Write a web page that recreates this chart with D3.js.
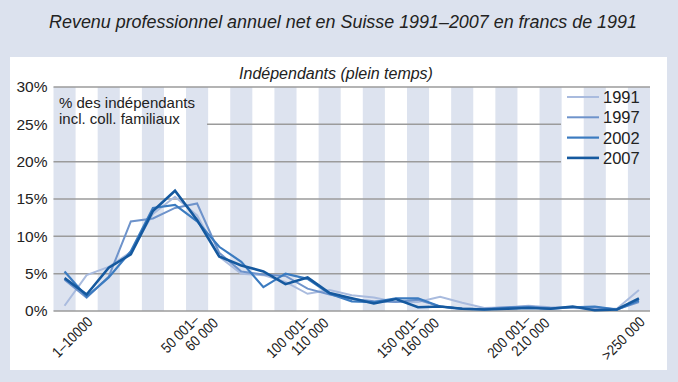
<!DOCTYPE html>
<html>
<head>
<meta charset="utf-8">
<script src="https://cdn.jsdelivr.net/npm/d3@7"></script>
<style>
  html, body { margin: 0; padding: 0; background: #dce2ee; }
  svg { display: block; }
  text { font-family: "Liberation Sans", Arial, sans-serif; fill: #222; }
</style>
</head>
<body>
<svg id="chart" width="678" height="382"></svg>
<script>
// ---- data ----
const categories = ["≤0", "1–10 000", "10 001–20 000", "20 001–30 000", "30 001–40 000", "40 001–50 000",
  "50 001–60 000", "60 001–70 000", "70 001–80 000", "80 001–90 000", "90 001–100 000",
  "100 001–110 000", "110 001–120 000", "120 001–130 000", "130 001–140 000", "140 001–150 000",
  "150 001–160 000", "160 001–170 000", "170 001–180 000", "180 001–190 000", "190 001–200 000",
  "200 001–210 000", "210 001–220 000", "220 001–230 000", "230 001–240 000", "240 001–250 000", ">250 000"];
const years = ["1991", "1997", "2002", "2007"];
const v1991 = [0.7, 4.8, 5.9, 7.9, 13.0, 15.3, 12.8, 7.3, 5.0, 4.8, 3.9, 2.3, 2.8, 2.1, 1.8, 1.2, 1.2, 1.9, 1.1, 0.4, 0.5, 0.7, 0.5, 0.4, 0.3, 0.3, 2.8];
const v1997 = [4.2, 1.8, 4.6, 12.0, 12.4, 13.8, 14.4, 7.8, 5.3, 4.9, 4.7, 3.0, 2.2, 1.6, 1.3, 1.2, 1.5, 0.6, 0.3, 0.3, 0.5, 0.6, 0.4, 0.5, 0.5, 0.2, 1.2];
const v2002 = [5.3, 1.9, 4.5, 8.0, 13.8, 14.2, 12.0, 8.6, 6.6, 3.2, 5.0, 4.3, 2.3, 1.3, 1.2, 1.7, 1.7, 0.6, 0.3, 0.2, 0.4, 0.5, 0.3, 0.5, 0.6, 0.2, 1.4];
const v2007 = [4.4, 2.2, 5.8, 7.6, 13.4, 16.1, 12.2, 7.3, 6.1, 5.3, 3.6, 4.5, 2.4, 1.7, 1.0, 1.6, 0.5, 0.6, 0.3, 0.2, 0.3, 0.4, 0.3, 0.6, 0.1, 0.2, 1.7];
const yTicks = [0, 5, 10, 15, 20, 25, 30];
const xTickIndex = [1, 6, 11, 16, 21, 26];
const xTickLabels = [["1–10000"], ["50 001–", "60 000"], ["100 001–", "110 000"], ["150 001–", "160 000"], ["200 001–", "210 000"], [">250 000"]];
const title = "Revenu professionnel annuel net en Suisse 1991–2007 en francs de 1991";
const subtitle = "Indépendants (plein temps)";
const note = ["% des indépendants", "incl. coll. familiaux"];

// ---- layout ----
const series = [
  { name: years[0], values: v1991, color: "#a9bbde", width: 2 },
  { name: years[1], values: v1997, color: "#6e93cb", width: 2 },
  { name: years[2], values: v2002, color: "#3b7bc0", width: 2.2 },
  { name: years[3], values: v2007, color: "#15599f", width: 2.6 }
];
const svg = d3.select("#chart");
const L = 53.5, R = 650, T = 87, B = 311;

svg.append("rect").attr("x", 0).attr("y", 0).attr("width", 678).attr("height", 382).attr("fill", "#dce2ee");
svg.append("rect").attr("x", 10).attr("y", 57).attr("width", 657).attr("height", 313).attr("fill", "#ffffff");

const x = d3.scaleBand().domain(d3.range(categories.length)).range([L, R]).padding(0);
const y = d3.scaleLinear().domain([0, 30]).range([B, T]);

// stripes
svg.append("g").selectAll("rect").data(d3.range(categories.length).filter(i => i % 2 === 0))
  .join("rect")
  .attr("x", i => x(i)).attr("y", T).attr("width", x.bandwidth()).attr("height", B - T)
  .attr("fill", "#dde3ef");

// grid lines
const gridSpan = { 25: [207, 561], 20: [L, 561] };
svg.append("g").selectAll("line").data(yTicks).join("line")
  .attr("x1", d => gridSpan[d] ? gridSpan[d][0] : L)
  .attr("x2", d => gridSpan[d] ? gridSpan[d][1] : R)
  .attr("y1", d => y(d)).attr("y2", d => y(d))
  .attr("stroke", "#9b9b9b").attr("stroke-width", 1.5);

// y axis labels
const yAxis = svg.append("g").attr("transform", `translate(${L - 6},0)`)
  .call(d3.axisLeft(y).tickValues(yTicks).tickSize(0).tickPadding(0).tickFormat(d => d + "%"));
yAxis.select(".domain").remove();
yAxis.selectAll("text").attr("font-size", 15.5).attr("fill", "#222")
  .style("font-family", "'Liberation Sans', Arial, sans-serif");

// x axis labels
const xAxis = svg.append("g").attr("transform", `translate(0,${B})`)
  .call(d3.axisBottom(x).tickValues(xTickIndex).tickSize(0).tickFormat(""));
xAxis.select(".domain").remove();
xAxis.selectAll(".tick").each(function (d, k) {
  const lines = xTickLabels[k];
  const t = d3.select(this).append("text")
    .attr("transform", lines.length === 1 ? "translate(-1,4) rotate(-45) scale(0.86,1)" : "translate(-5,2) rotate(-45) scale(0.86,1)")
    .attr("text-anchor", "end").attr("font-size", 15).attr("fill", "#111")
    .style("font-family", "'Liberation Sans', Arial, sans-serif");
  lines.forEach((s, j) => {
    t.append("tspan").attr("x", j === 0 ? 0 : 13).attr("dy", j === 0 ? "0.75em" : "1.05em").text(s);
  });
});

// lines
const line = d3.line().x((d, i) => x(i) + x.bandwidth() / 2).y(d => y(d));
svg.append("g").selectAll("path").data(series).join("path")
  .attr("d", s => line(s.values))
  .attr("fill", "none").attr("stroke", s => s.color).attr("stroke-width", s => s.width)
  .attr("stroke-linejoin", "miter");

// legend
const lg = svg.append("g").selectAll("g").data(series).join("g")
  .attr("transform", (s, i) => `translate(567,${97 + i * 20.3})`);
lg.append("line").attr("x1", 0).attr("x2", 32).attr("y1", 0).attr("y2", 0)
  .attr("stroke", s => s.color).attr("stroke-width", s => s.width);
lg.append("text").attr("x", 36).attr("dy", "0.36em").attr("font-size", 16.5).text(s => s.name);

// texts
svg.append("text").attr("x", 343).attr("y", 28).attr("text-anchor", "middle")
  .attr("font-size", 17.9).attr("font-style", "italic").text(title);
svg.append("text").attr("x", 336).attr("y", 79).attr("text-anchor", "middle")
  .attr("font-size", 16).attr("font-style", "italic").text(subtitle);
svg.append("text").attr("x", 59).attr("y", 108).attr("font-size", 15).attr("fill", "#333")
  .selectAll("tspan").data(note).join("tspan").attr("x", 59).attr("dy", (d, i) => i ? 16 : 0).text(d => d);
</script>
</body>
</html>
